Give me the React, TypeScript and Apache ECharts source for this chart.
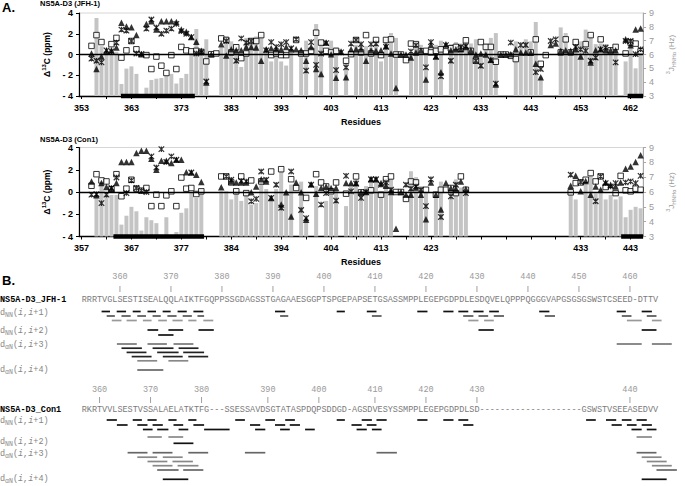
import React, { useEffect, useRef } from 'react';
import * as echarts from 'echarts';

// ---------------- sequences (alignment positions = chart categories) ----------------
const jfhSeq = 'RRRTVGLSESTISEALQQLAIKTFGQPPSSGDAGSSTGAGAAESGGPTSPGEPAPSETGSASSMPPLEGEPGDPDLESDQVELQPPPQGGGVAPGSGSGSWSTCSEED-DTTV';
const conSeq = 'RKRTVVLSESTVSSALAELATKTFG---SSESSAVDSGTATASPDQPSDDGD-AGSDVESYSSMPPLEGEPGDPDLSD--------------------GSWSTVSEEASEDVV';
const jfhStart = 353;
const conStart = 357;

// ---------------- Panel A, NS5A-D3 (JFH-1): [alignment position, value] ----------------
const jfhJ = [[3,8.64],[4,6.6],[5,6.1],[6,6.3],[7,6.2],[8,3.87],[9,4.98],[10,5.14],[11,4.6],[13,3.6],[14,4.16],[15,4.25],[16,4.3],[17,4.47],[18,4.6],[19,3.9],[20,4.3],[21,4.6],[22,6.3],[23,7.84],[24,6.0],[25,7.1],[28,6.5],[29,7.3],[30,6.95],[31,6.75],[32,5.1],[33,7.2],[34,6.95],[35,7.3],[36,7.4],[37,6.5],[38,5.5],[39,6.4],[40,5.5],[41,5.2],[42,6.2],[44,6.2],[45,7.0],[47,8.2],[48,7.0],[50,7.0],[51,6.5],[53,5.4],[55,6.7],[56,6.8],[57,6.6],[58,6.5],[59,6.7],[60,5.5],[61,7.1],[62,7.55],[63,7.2],[66,6.2],[67,6.8],[68,6.7],[69,6.2],[71,6.7],[72,7.0],[74,6.76],[75,6.9],[76,6.8],[77,6.95],[78,6.8],[79,7.1],[80,6.0],[81,6.8],[82,7.2],[83,7.55],[87,6.95],[88,6.5],[89,7.1],[90,6.95],[91,8.35],[92,4.4],[96,7.96],[97,7.55],[98,6.3],[99,6.75],[100,6.95],[101,7.8],[102,7.43],[103,6.75],[104,6.8],[105,6.75],[106,6.5],[107,6.75],[109,5.5],[110,6.95],[111,5.0],[112,6.5]];
const jfhTri = [[2,0.1],[3,-1.4],[4,-0.2],[5,0.35],[6,0.4],[7,0.67],[8,3.05],[9,2.7],[10,2.63],[11,1.87],[12,0.03],[13,2.95],[14,3.2],[15,2.4],[16,3.2],[17,3.2],[18,3.2],[19,3.14],[20,2.4],[21,2.2],[22,1.68],[23,1.24],[24,0.35],[25,-2.7],[26,0.03],[28,1.0],[29,-0.1],[30,0.5],[31,0.4],[32,0.4],[33,0.73],[34,0.73],[35,0.67],[36,-0.6],[37,0.5],[38,0.6],[39,0.5],[40,0.5],[41,0.73],[42,0.5],[43,0.5],[44,0.4],[45,-0.6],[46,0.73],[47,-1.4],[48,-1.87],[49,1.15],[50,0.03],[51,-2.25],[52,0.3],[53,-2.2],[54,0.5],[55,0.5],[56,0.5],[57,-0.6],[58,0.4],[59,0.35],[60,0.4],[61,0.83],[62,0.1],[63,-3.24],[64,0.0],[65,0.0],[66,-0.3],[67,0.2],[68,0.4],[69,-2.4],[70,0.92],[71,-0.2],[72,-1.7],[73,1.0],[74,0.4],[75,0.5],[76,0.5],[77,0.73],[78,0.4],[79,0.0],[80,0.1],[81,0.0],[82,-0.5],[83,-2.9],[84,0.0],[85,0.0],[86,0.03],[87,0.5],[88,0.2],[89,0.2],[90,0.2],[91,-0.9],[92,-2.2],[94,0.92],[95,1.05],[96,0.35],[97,0.4],[98,0.35],[99,0.5],[100,-0.2],[102,-0.76],[103,0.4],[104,0.5],[105,0.4],[106,0.4],[107,0.4],[109,1.46],[110,0.9],[111,2.4],[112,2.5]];
const jfhSq = [[2,0.83],[3,1.87],[4,1.2],[6,1.0],[7,1.6],[8,-0.3],[9,0.4],[10,1.3],[11,0.5],[13,-0.06],[14,-1.4],[15,-0.2],[16,-1.08],[17,-1.78],[18,-0.06],[19,-1.4],[20,0.73],[21,0.4],[22,0.3],[23,0.35],[24,0.25],[25,-0.67],[26,0.03],[27,0.1],[28,1.55],[29,1.4],[30,0.2],[31,0.7],[32,-0.35],[33,0.1],[34,1.3],[35,1.3],[36,1.87],[38,-0.06],[39,0.1],[40,-0.06],[41,-0.06],[43,1.4],[44,0.1],[45,0.1],[46,0.35],[47,2.1],[48,1.15],[49,0.35],[50,0.2],[51,0.35],[53,-0.6],[54,0.03],[55,1.4],[56,0.2],[57,1.87],[58,0.1],[59,1.4],[60,-0.06],[61,1.4],[62,1.46],[63,0.0],[64,0.0],[65,-0.54],[66,1.05],[67,1.0],[68,0.3],[69,0.35],[70,0.2],[71,0.35],[72,0.5],[73,0.3],[74,0.6],[75,0.73],[76,0.55],[77,1.37],[78,0.35],[79,-0.6],[80,1.2],[81,0.73],[82,0.73],[83,-0.7],[84,0.0],[85,0.0],[86,-0.13],[87,-0.44],[90,0.2],[91,1.46],[92,-0.9],[93,-0.06],[96,0.2],[97,1.46],[98,0.2],[99,1.2],[101,1.0],[102,1.87],[104,1.46],[106,0.4],[107,0.73],[109,0.1],[110,1.15],[111,1.05],[112,0.3]];
const jfhStar = [[2,-0.4],[3,-0.6],[4,-0.76],[5,0.4],[6,0.3],[7,1.15],[8,2.4],[9,2.3],[10,1.3],[11,0.1],[12,0.05],[13,2.5],[14,3.37],[15,2.6],[16,2.0],[17,2.3],[18,2.5],[19,2.95],[20,2.25],[21,2.0],[22,1.68],[23,0.1],[24,0.2],[25,-2.6],[29,1.3],[31,-0.6],[32,1.55],[33,1.15],[34,1.3],[37,0.4],[38,1.2],[39,0.73],[40,1.0],[41,1.2],[42,0.6],[43,1.46],[45,-1.55],[46,1.2],[47,-1.0],[48,0.1],[49,1.1],[51,-1.5],[52,0.2],[53,-1.24],[54,1.05],[55,1.4],[56,1.0],[58,1.0],[59,1.05],[61,0.73],[66,0.3],[67,0.9],[69,-1.24],[70,1.2],[71,-0.2],[72,-2.1],[73,0.9],[74,-0.6],[76,0.73],[77,0.8],[79,-0.6],[80,-1.08],[82,-0.55],[83,-2.8],[86,1.15],[88,0.92],[89,0.92],[91,-1.7],[92,-1.4],[94,1.3],[95,1.46],[99,0.73],[100,0.5],[101,0.35],[102,-0.6],[103,-0.3],[104,0.5],[105,0.67],[107,-0.76],[109,1.3],[110,1.3],[111,0.03],[112,0.5]];
const jfhHelix = [[8.4, 23.2], [109.9, 113]];

// ---------------- Panel A, NS5A-D3 (Con1) ----------------
const conJ = [[3,5.8],[4,6.7],[5,5.9],[6,5.8],[7,5.8],[8,3.8],[9,4.4],[10,5.0],[11,4.7],[12,3.4],[13,4.3],[14,4.1],[15,3.9],[17,4.3],[19,3.3],[20,4.6],[21,4.9],[22,6.0],[23,5.6],[24,6.2],[28,6.05],[29,6.05],[30,5.5],[31,6.05],[32,5.4],[33,5.9],[34,5.15],[35,5.25],[36,6.7],[37,6.2],[38,5.75],[39,6.2],[40,7.6],[41,6.05],[42,6.5],[44,6.7],[45,4.25],[47,6.4],[49,5.4],[50,5.8],[51,6.1],[53,5.05],[54,6.6],[55,6.85],[56,6.1],[57,6.4],[58,7.0],[59,7.0],[60,5.9],[61,6.9],[62,6.9],[66,7.4],[67,7.0],[68,6.4],[69,6.05],[71,5.9],[72,6.7],[74,6.1],[75,6.85],[76,6.3],[77,6.05],[98,6.3],[99,5.5],[101,6.7],[102,7.1],[103,5.9],[104,6.2],[105,5.5],[106,5.8],[107,5.5],[108,5.7],[109,4.3],[110,4.8],[111,5.0],[112,4.9]];
const conTri = [[2,0.95],[3,-0.3],[4,0.8],[5,0.44],[6,0.3],[7,0.8],[8,2.7],[9,2.7],[10,2.7],[11,3.5],[12,3.7],[13,3.7],[14,3.0],[15,2.0],[16,2.8],[17,2.8],[18,2.6],[19,2.9],[20,2.9],[21,1.78],[22,1.75],[23,1.55],[24,0.9],[28,0.42],[30,0.95],[31,0.86],[32,0.86],[33,0.86],[34,-0.03],[35,0.5],[36,1.15],[37,0.95],[38,-0.53],[40,-1.13],[41,-0.03],[42,-2.2],[43,0.86],[44,-0.03],[45,-2.5],[46,0.7],[47,-0.15],[48,0.36],[49,0.5],[50,0.36],[51,0.36],[53,0.8],[54,0.8],[55,0.8],[56,-0.03],[57,0.0],[58,1.15],[59,1.15],[60,0.8],[61,0.56],[62,0.0],[63,-3.3],[64,0.0],[65,-0.24],[66,-0.24],[67,0.4],[68,-0.24],[69,-2.45],[70,0.86],[71,-0.24],[72,-1.57],[73,0.8],[74,0.36],[75,0.27],[76,0.95],[77,0.27],[98,0.56],[99,1.45],[100,0.06],[101,1.0],[102,-0.24],[103,0.5],[104,0.2],[105,0.86],[106,0.65],[107,0.5],[108,0.86],[109,2.1],[110,2.3],[111,2.7],[112,3.3]];
const conSq = [[2,0.56],[3,1.6],[4,1.04],[5,0.95],[6,0.25],[7,1.6],[8,-0.38],[9,0.3],[10,1.1],[11,0.3],[12,0.12],[13,0.36],[14,-1.27],[15,-0.24],[16,-1.27],[17,-0.3],[18,0.06],[19,-1.27],[20,1.3],[21,0.3],[22,0.36],[23,-0.18],[24,0.06],[28,1.4],[29,1.4],[30,0.86],[31,0.06],[32,1.4],[33,-0.1],[34,1.04],[36,0.95],[38,1.84],[40,2.05],[42,1.15],[43,0.36],[45,-0.53],[47,1.6],[48,0.86],[49,0.5],[50,0.06],[51,0.86],[53,-0.15],[55,1.4],[56,-0.03],[58,0.15],[60,-0.24],[61,1.15],[62,1.4],[63,0.0],[64,0.0],[65,-0.62],[66,0.95],[67,0.86],[69,0.2],[71,-0.24],[72,0.2],[73,0.2],[74,0.36],[75,-0.1],[76,1.4],[77,0.2],[98,-0.03],[99,0.8],[100,0.86],[101,1.1],[102,1.7],[103,0.95],[104,1.4],[105,0.45],[107,-0.1],[108,1.45],[109,0.15],[110,0.06],[111,0.3],[112,0.2]];
const conStar = [[2,-0.24],[3,-0.2],[4,-1.0],[5,-0.24],[6,0.36],[7,1.3],[9,-0.1],[10,1.04],[11,0.36],[12,0.12],[13,0.0],[14,3.2],[15,2.2],[16,3.85],[17,2.7],[18,3.2],[19,2.9],[22,1.75],[29,1.4],[30,1.1],[32,1.0],[33,0.95],[34,-0.83],[35,-0.62],[36,1.84],[37,1.1],[38,-0.53],[39,0.65],[40,-1.42],[42,1.84],[44,-1.62],[45,-2.35],[46,0.65],[48,-1.13],[49,-0.1],[51,-0.77],[53,1.45],[54,0.06],[55,0.75],[56,-0.53],[57,0.0],[58,1.15],[59,1.15],[60,0.65],[61,0.86],[62,0.2],[65,0.65],[66,0.3],[67,0.5],[68,0.2],[69,-1.27],[70,1.15],[72,-2.25],[74,-0.4],[75,0.65],[77,-0.1],[98,1.55],[100,0.9],[103,-0.83],[104,1.4],[105,0.8],[106,0.5],[107,0.8],[109,0.86],[110,0.95],[111,0.8],[112,1.45]];
const conHelix = [[6.9, 25.05], [108.6, 113]];

// ---------------- Panel B, NOE connectivities: [from, to] in alignment positions ----------------
const jfhNN1 = [
  [[3.9,5.55],[6.86,8.7],[10.0,11.56],[12.9,14.57],[15.87,17.44],[18.8,20.6],[21.9,23.85],[37.9,39.9],[50.0,51.6],[55.9,57.8],[65.8,67.8],[70.9,72.9],[73.85,75.8],[76.8,78.8],[79.9,81.8],[89.7,91.7],[104.9,106.7],[109.8,111.8]],
  [[4.9,6.5],[7.8,9.6],[10.9,12.6],[13.9,15.5],[16.8,18.6],[19.8,21.6],[22.7,24.0],[38.9,40.5],[56.9,58.8],[74.8,76.8],[77.8,79.7],[80.8,82.8],[90.8,92.8],[105.9,107.8],[110.8,112.7]],
  [[5.9,7.8],[8.8,10.8],[12.0,13.7],[15.0,16.7],[17.8,19.8],[20.9,22.5],[23.85,25.8],[75.8,77.8],[78.9,80.8],[106.9,109.8],[111.8,113.7]],
];
const jfhNN2 = [
  [[12.9,15.0],[17.0,19.9],[22.9,25.9],[77.8,80.8],[109.8,112.7]],
  [[15.0,18.0]],
];
const jfhAN3 = [
  [[6.9,10.8],[12.9,16.7],[18.0,21.9],[104.9,109.8],[111.8,115.7]],
  [[7.8,11.8],[13.9,18.0],[19.0,22.9]],
  [[8.8,12.7],[14.8,19.0],[19.9,24.0]],
  [[9.8,13.7],[15.9,19.8],[20.9,24.8]],
  [[10.9,14.8],[17.0,20.9]],
];
const jfhAN4 = [[[10.9,16.0]]];
const conNN1 = [
  [[4.9,6.9],[10.0,11.8],[12.9,14.7],[17.0,18.6],[20.9,22.5],[30.1,32.0],[36.0,37.9],[39.9,41.8],[50.0,51.6],[54.9,56.9],[57.8,59.8],[65.8,67.8],[70.9,72.9],[73.85,75.8],[98.9,100.8],[102.8,104.8],[105.9,107.8],[108.8,110.8]],
  [[6.9,9.0],[10.9,12.9],[13.9,15.9],[18.0,19.9],[21.9,24.0],[33.0,35.0],[37.9,39.9],[40.8,42.8],[52.9,54.9],[55.9,57.8],[74.8,76.8],[103.9,105.9],[106.9,108.8],[109.8,111.8]],
  [[12.0,13.9],[14.8,17.0],[19.0,20.9],[24.0,29.0],[34.0,36.0],[38.9,40.8],[43.8,45.7],[53.9,55.9],[56.9,58.8],[107.8,109.8],[110.8,112.7]],
];
const conNN2 = [
  [[12.9,15.7],[17.0,19.9],[108.8,111.8]],
  [[18.0,21.9]],
];
const conAN3 = [
  [[9.0,12.9],[13.9,17.8],[20.9,24.8],[32.0,36.0],[57.8,61.8],[108.8,112.7]],
  [[10.9,14.8],[15.9,19.8],[109.8,113.7]],
  [[12.9,16.8],[17.8,21.8],[110.8,114.7]],
  [[13.9,17.8],[18.8,22.9],[111.8,115.7]],
  [[14.8,19.0],[19.9,23.85],[112.7,116.7]],
];
const conAN4 = [[[15.9,20.9],[109.8,114.7]]];

// ---------------- layout / style (not data) ----------------
const NCAT = 113;
const FONT = '"Liberation Sans", Arial, sans-serif';
const MONO = '"Liberation Mono", "Courier New", monospace';
const GREY_BAR = '#c4c4c4';
const LABEL_GREY = '#858585';
const CW = 5.1; // monospace advance at 8.5px
const B_LAYOUT = {
  jfh: { ruler: 277, tick: 289, seq: 300, name: 'NS5A-D3_JFH-1',
    rows: [
      { label: 'NN', rng: '+1', ly: 312.5, ys: [311.5, 316, 320.5], colors: ['#111', '#555', '#999'], segs: jfhNN1 },
      { label: 'NN', rng: '+2', ly: 331, ys: [330, 335], colors: ['#111', '#111'], segs: jfhNN2 },
      { label: 'αN', rng: '+3', ly: 344.5, ys: [344, 348.2, 352.4, 356.6, 360.8], colors: ['#777', '#222', '#222', '#222', '#888'], segs: jfhAN3 },
      { label: 'αN', rng: '+4', ly: 370, ys: [370], colors: ['#666'], segs: jfhAN4 },
    ] },
  con: { ruler: 390, tick: 400, seq: 409.5, name: 'NS5A-D3_Con1',
    rows: [
      { label: 'NN', rng: '+1', ly: 420.5, ys: [420, 425, 429.5], colors: ['#111', '#111', '#111'], segs: conNN1 },
      { label: 'NN', rng: '+2', ly: 441.8, ys: [437, 443.3], colors: ['#888', '#111'], segs: conNN2 },
      { label: 'αN', rng: '+3', ly: 453.5, ys: [452.7, 457.2, 461.5, 465.7, 470], colors: ['#666', '#888', '#888', '#888', '#666'], segs: conAN3 },
      { label: 'αN', rng: '+4', ly: 478.8, ys: [479.3], colors: ['#111', '#111'], segs: conAN4 },
    ] },
};

function numbering(seq: string, start: number) {
  let r = start;
  return seq.split('').map((c) => (c === '-' ? '' : String(r++)));
}
function rulerMarks(seq: string, start: number) {
  const out: [number, number][] = [];
  let r = start;
  for (let i = 0; i < seq.length; i++) {
    if (seq[i] === '-') continue;
    if (r % 10 === 0) out.push([i, r]);
    r++;
  }
  return out;
}
function toCats(pairs: number[][]) {
  const a: any[] = new Array(NCAT).fill('-');
  pairs.forEach(([i, v]) => (a[i] = v));
  return a;
}

// "d_XX(i,i+n)" built from monospace pieces
function noeLabel(y: number, sub: string, rng: string) {
  const f = `8.5px ${MONO}`;
  const fi = `italic 8.5px ${MONO}`;
  const fs = `6.5px ${MONO}`;
  const subW = sub.length * 3.9;
  const x1 = CW + subW;
  const t = (x: number, yy: number, text: string, font: string) => ({
    type: 'text', x, y: yy, silent: true,
    style: { text, font, fill: LABEL_GREY, verticalAlign: 'middle', align: 'left' },
  });
  return {
    type: 'group', silent: true, children: [
      t(0, y, 'd', f),
      t(CW, y + 2.5, sub, fs),
      t(x1, y, '(', f),
      t(x1 + CW, y, 'i', fi),
      t(x1 + 2 * CW, y, ',', f),
      t(x1 + 3 * CW, y, 'i', fi),
      t(x1 + 4 * CW, y, rng + ')', f),
    ],
  };
}

const STAR = 'path://M0,0L10,10M10,0L0,10M5,0L5,10';

function buildOption() {
  const xAxis: any[] = [];
  const yAxis: any[] = [];
  const series: any[] = [];
  const grid = [
    { left: 79, top: 13, width: 576, height: 83, show: true, borderColor: '#d6d6d6', borderWidth: 1 },
    { left: 79, top: 147.5, width: 576, height: 89, show: true, borderColor: '#d6d6d6', borderWidth: 1 },
    { left: 81.7, top: 0, width: 576.3, height: 486, show: false },
  ];

  const addChart = (g: number, labels: string[], bars: number[][], tri: number[][], sq: number[][], star: number[][], helix: number[][]) => {
    const xi = xAxis.length;
    xAxis.push({
      type: 'category', gridIndex: g, data: labels, boundaryGap: true,
      axisLine: { onZero: false, lineStyle: { color: '#000', width: 1.3 } },
      axisTick: { show: true, interval: 4, alignWithLabel: true, length: 3, lineStyle: { color: '#000' } },
      axisLabel: { interval: 9, color: '#000', fontFamily: FONT, fontSize: 9, fontWeight: 'bold', margin: 7 },
      splitLine: { show: false },
      name: 'Residues', nameLocation: 'middle', nameGap: 21,
      nameTextStyle: { color: '#000', fontFamily: FONT, fontSize: 9, fontWeight: 'bold' },
    });
    xAxis.push({ type: 'value', gridIndex: g, min: 0, max: NCAT, show: false });
    const yi = yAxis.length;
    yAxis.push({
      type: 'value', gridIndex: g, position: 'left', min: -4, max: 4, interval: 2,
      axisLine: { show: true, onZero: false, lineStyle: { color: '#000', width: 1.2 } },
      axisTick: { show: true, length: 3, lineStyle: { color: '#000' } },
      splitLine: { show: false },
      axisLabel: { color: '#000', fontFamily: FONT, fontSize: 9, fontWeight: 'bold', margin: 6,
        formatter: (v: number) => (v < 0 ? '- ' + Math.abs(v) : String(v)) },
      name: '{t|Δ}{s|13}{t|C (ppm)}', nameLocation: 'middle', nameGap: 24, nameRotate: 90,
      nameTextStyle: { rich: {
        t: { fontFamily: FONT, fontSize: 8.5, fontWeight: 'bold', color: '#000', lineHeight: 12 },
        s: { fontFamily: FONT, fontSize: 6, fontWeight: 'bold', color: '#000', lineHeight: 6, verticalAlign: 'top' },
      } },
    });
    yAxis.push({
      type: 'value', gridIndex: g, position: 'right', min: 3, max: 9, interval: 1, startValue: 3,
      axisLine: { show: true, onZero: false, lineStyle: { color: '#a8a8a8', width: 1 } },
      axisTick: { show: true, length: 3, lineStyle: { color: '#a8a8a8' } },
      splitLine: { show: false },
      axisLabel: { color: '#9a9a9a', fontFamily: FONT, fontSize: 9, margin: 6 },
      name: '{s|3}{t|J}{b|HNHα}{t| (Hz)}', nameLocation: 'middle', nameGap: 19, nameRotate: 90,
      nameTextStyle: { rich: {
        t: { fontFamily: FONT, fontSize: 8, color: '#9a9a9a', lineHeight: 12 },
        s: { fontFamily: FONT, fontSize: 5.5, color: '#9a9a9a', lineHeight: 6, verticalAlign: 'top' },
        b: { fontFamily: FONT, fontSize: 5.5, color: '#9a9a9a', lineHeight: 6, verticalAlign: 'bottom' },
      } },
    });
    series.push({ type: 'bar', xAxisIndex: xi, yAxisIndex: yi + 1, data: toCats(bars), barCategoryGap: '20%',
      itemStyle: { color: GREY_BAR }, z: 1, clip: true, silent: true });
    series.push({ type: 'line', xAxisIndex: xi, yAxisIndex: yi, data: [], z: 2, silent: true,
      markLine: { silent: true, symbol: ['none', 'none'], label: { show: false }, animation: false,
        lineStyle: { color: '#000', width: 1.3, type: 'solid' }, data: [{ yAxis: 0 }] } });
    series.push({ type: 'scatter', xAxisIndex: xi, yAxisIndex: yi, data: sq, symbol: 'rect', symbolSize: 5.5, z: 3, silent: true,
      itemStyle: { color: '#fff', borderColor: '#000', borderWidth: 1 } });
    series.push({ type: 'scatter', xAxisIndex: xi, yAxisIndex: yi, data: star, symbol: STAR, symbolSize: 5.5, z: 4, silent: true,
      itemStyle: { color: 'rgba(0,0,0,0)', borderColor: '#000', borderWidth: 1.2 } });
    series.push({ type: 'scatter', xAxisIndex: xi, yAxisIndex: yi, data: tri, symbol: 'triangle', symbolSize: 6.5, z: 5, silent: true,
      itemStyle: { color: '#000' } });
    helix.forEach(([a, b]) => series.push({ type: 'line', xAxisIndex: xi + 1, yAxisIndex: yi, data: [[a, -4], [b, -4]],
      symbol: 'none', lineStyle: { color: '#000', width: 4.5, cap: 'butt' }, clip: false, z: 6, silent: true }));
  };

  addChart(0, numbering(jfhSeq, jfhStart), jfhJ, jfhTri, jfhSq, jfhStar, jfhHelix);
  addChart(1, numbering(conSeq, conStart), conJ, conTri, conSq, conStar, conHelix);

  // Panel B coordinate system: x = alignment position, y = page pixel row
  const bx = xAxis.length;
  xAxis.push({ type: 'value', gridIndex: 2, min: 0, max: NCAT, show: false });
  const by = yAxis.length;
  yAxis.push({ type: 'value', gridIndex: 2, min: 0, max: 486, inverse: true, show: false });

  const segData: number[][] = [];
  const segColor: string[] = [];
  const rulerData: number[][] = [];
  const rulerText: string[] = [];
  const graphic: any[] = [];

  const blocks = [
    { L: B_LAYOUT.jfh, seq: jfhSeq, start: jfhStart },
    { L: B_LAYOUT.con, seq: conSeq, start: conStart },
  ];
  blocks.forEach(({ L, seq, start }) => {
    rulerMarks(seq, start).forEach(([pos, res]) => {
      rulerData.push([pos + 0.5, L.ruler, L.tick]);
      rulerText.push(String(res));
    });
    L.rows.forEach((row) => {
      row.segs.forEach((sub, k) => {
        sub.forEach(([a, b]) => {
          segData.push([a, b, row.ys[k]]);
          segColor.push(row.colors[k]);
        });
      });
      graphic.push(noeLabel(row.ly, row.label, row.rng));
    });
    graphic.push({ type: 'text', x: 81.7, y: L.seq, silent: true,
      style: { text: seq, font: `8.5px ${MONO}`, fill: '#7a7a7a', verticalAlign: 'middle', align: 'left' } });
    graphic.push({ type: 'text', x: 0, y: L.seq, silent: true,
      style: { text: L.name, font: `bold 8.5px ${MONO}`, fill: '#000', verticalAlign: 'middle', align: 'left' } });
  });

  series.push({
    type: 'custom', xAxisIndex: bx, yAxisIndex: by, data: segData, silent: true, clip: false, z: 3,
    renderItem: (params: any, api: any) => {
      const p1 = api.coord([api.value(0), api.value(2)]);
      const p2 = api.coord([api.value(1), api.value(2)]);
      return { type: 'line', shape: { x1: p1[0], y1: p1[1], x2: p2[0], y2: p2[1] },
        style: { stroke: segColor[params.dataIndex], lineWidth: 1.7 } };
    },
  });
  series.push({
    type: 'custom', xAxisIndex: bx, yAxisIndex: by, data: rulerData, silent: true, clip: false, z: 3,
    renderItem: (params: any, api: any) => {
      const p = api.coord([api.value(0), api.value(1)]);
      const t = api.coord([api.value(0), api.value(2)]);
      return { type: 'group', children: [
        { type: 'text', x: p[0], y: p[1], style: { text: rulerText[params.dataIndex], font: `8.5px ${MONO}`,
          fill: '#9a9a9a', align: 'center', verticalAlign: 'middle' } },
        { type: 'line', shape: { x1: t[0], y1: t[1] - 3, x2: t[0], y2: t[1] + 3 }, style: { stroke: '#a0a0a0', lineWidth: 1 } },
      ] };
    },
  });

  graphic.push(
    { type: 'text', x: 2, y: 7.5, silent: true, style: { text: 'A.', font: `bold 13px ${FONT}`, fill: '#000', verticalAlign: 'middle' } },
    { type: 'text', x: 40, y: 3.5, silent: true, style: { text: 'NS5A-D3 (JFH-1)', font: `bold 7.5px ${FONT}`, fill: '#000', verticalAlign: 'middle' } },
    { type: 'text', x: 40, y: 139.5, silent: true, style: { text: 'NS5A-D3 (Con1)', font: `bold 7.5px ${FONT}`, fill: '#000', verticalAlign: 'middle' } },
    { type: 'text', x: 2, y: 280, silent: true, style: { text: 'B.', font: `bold 13px ${FONT}`, fill: '#000', verticalAlign: 'middle' } },
  );

  return { animation: false, backgroundColor: '#fff', grid, xAxis, yAxis, series, graphic };
}

export default function App() {
  const ref = useRef<HTMLDivElement>(null);
  useEffect(() => {
    const chart = echarts.init(ref.current as HTMLDivElement, null, { renderer: 'svg' });
    chart.setOption(buildOption() as any);
    return () => chart.dispose();
  }, []);
  return <div ref={ref} style={{ position: 'absolute', left: 0, top: 0, width: 685, height: 486, background: '#fff' }} />;
}
